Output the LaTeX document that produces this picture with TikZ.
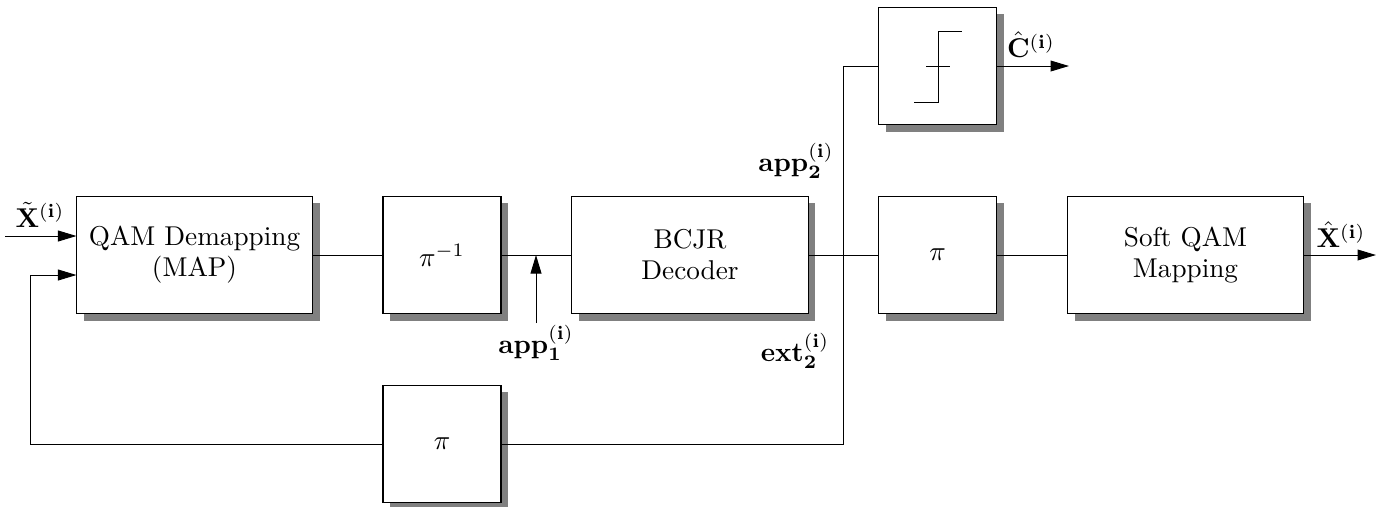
\documentclass[tikz,border=0pt]{standalone}
\usetikzlibrary{arrows.meta,shadows,calc}
\tikzset{
  blockbox/.style={draw=black,fill=white,line width=0.42pt,minimum height=43.2pt,align=center,inner sep=0pt,
    general shadow={fill=black!50,shadow xshift=2.7pt,shadow yshift=-2.6pt}},
  squarebox/.style={blockbox,minimum width=43.4pt},
  widebox/.style={blockbox,minimum width=86.8pt},
  wire/.style={draw=black,line width=0.36pt},
  arrowwire/.style={wire,-{Triangle[length=6.8pt,width=4pt]}},
  txt/.style={inner sep=0pt}
}
\begin{document}
\begin{tikzpicture}[x=0.3675pt,y=-0.3675pt]
\useasboundingbox (0,0) rectangle (1391,506);
% blocks
\node[widebox] (qam) at (194.5,255) {QAM Demapping\\[-0.6pt](MAP)};
\node[squarebox] (pinv) at (442,255) {$\pi^{-1}$};
\node[widebox] (bcjr) at (690,255) {BCJR\\[-0.6pt]Decoder};
\node[squarebox] (pimid) at (937.5,255) {$\pi$};
\node[widebox] (soft) at (1185.5,255) {Soft QAM\\[-0.6pt]Mapping};
\node[squarebox] (slicer) at (937.5,66) {};
\node[squarebox] (pibot) at (442,444) {$\pi$};
% free ends and bends
\coordinate (inx) at (5,236);
\coordinate (qamin1) at (76.5,236);
\coordinate (qamin2) at (76.5,275);
\coordinate (fbcorner1) at (30,275);
\coordinate (fbcorner2) at (30,444);
\coordinate (busbot) at (843,444);
\coordinate (bustop) at (843,66);
\coordinate (cout) at (1069,66);
\coordinate (xout) at (1376,255);
\coordinate (appfrom) at (536,323);
\coordinate (appto) at (536,255);
% slicer symbol
\coordinate (s1) at (914,102);
\coordinate (s2) at (938,102);
\coordinate (s3) at (938,31);
\coordinate (s4) at (962,31);
\coordinate (t1) at (926,66);
\coordinate (t2) at (950,66);
\draw[wire] (s1) -- (s2) -- (s3) -- (s4);
\draw[wire] (t1) -- (t2);
% connectors
\draw[arrowwire] (inx) -- (qamin1);
\draw[arrowwire] (pibot.west) -- (fbcorner2) -- (fbcorner1) -- (qamin2);
\draw[wire] (qam.east) -- (pinv.west);
\draw[wire] (pinv.east) -- (bcjr.west);
\draw[wire] (bcjr.east) -- (pimid.west);
\draw[wire] (pimid.east) -- (soft.west);
\draw[arrowwire] (soft.east) -- (xout);
\draw[wire] (pibot.east) -- (busbot) -- (bustop) -- (slicer.west);
\draw[arrowwire] (slicer.east) -- (cout);
\draw[arrowwire] (appfrom) -- (appto);
% labels
\node[txt] (lx) at (40,215) {$\tilde{\mathbf{X}}^{(\mathbf{i})}$};
\node[txt] (lc) at (1031,45) {$\hat{\mathbf{C}}^{(\mathbf{i})}$};
\node[txt] (lxh) at (1341,235) {$\hat{\mathbf{X}}^{(\mathbf{i})}$};
\node[txt] (lapp2) at (796,161) {$\mathbf{app}_{\mathbf{2}}^{(\mathbf{i})}$};
\node[txt] (lapp1) at (536,343) {$\mathbf{app}_{\mathbf{1}}^{(\mathbf{i})}$};
\node[txt] (lext) at (795,351) {$\mathbf{ext}_{\mathbf{2}}^{(\mathbf{i})}$};
\end{tikzpicture}
\end{document}
